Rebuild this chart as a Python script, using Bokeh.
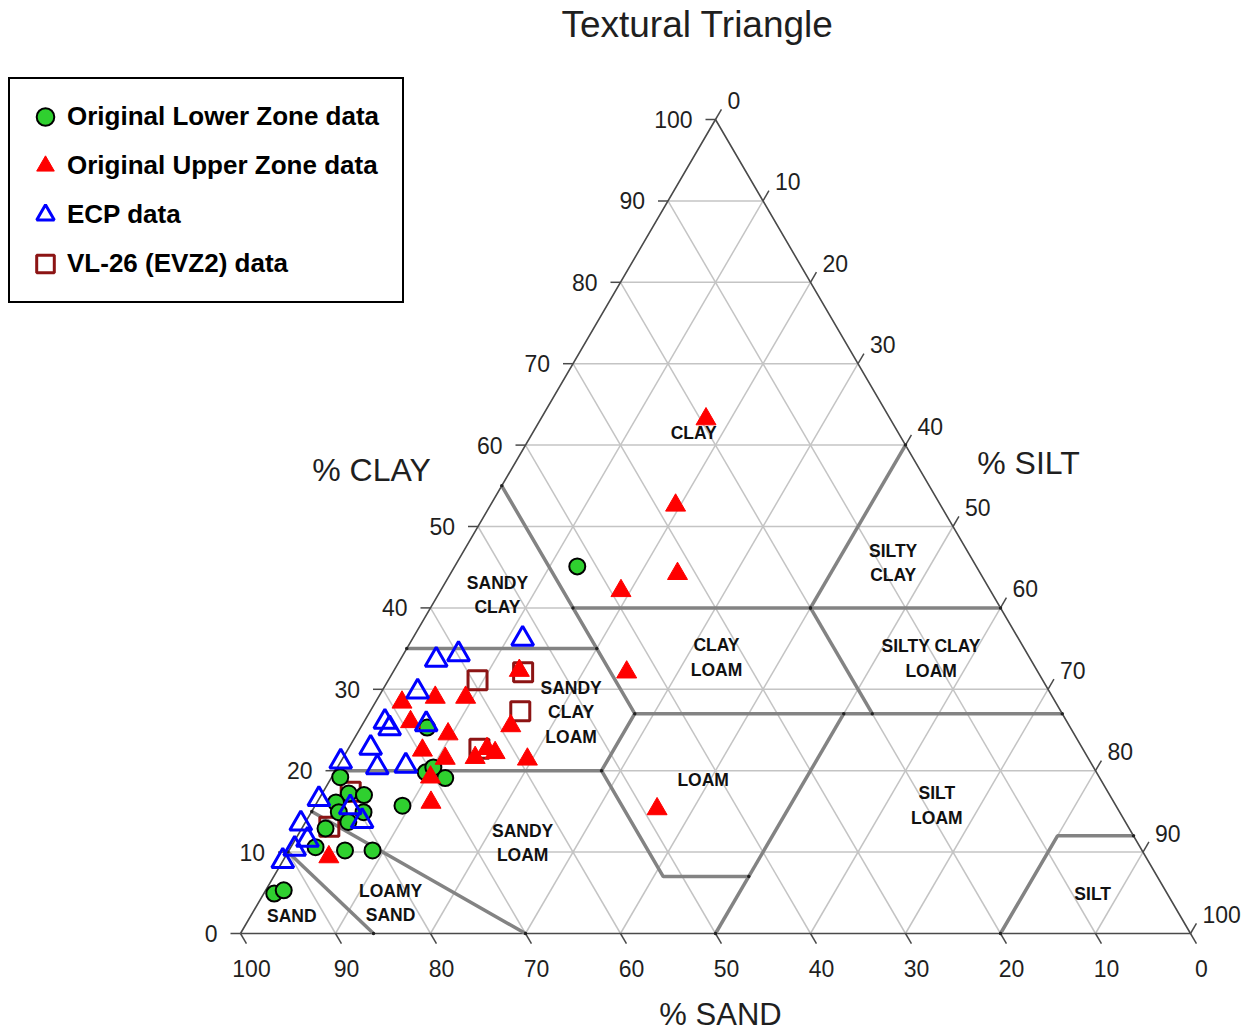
import numpy as np
from bokeh.plotting import figure
from bokeh.models import Range1d, Legend, LegendItem
from bokeh.core.properties import value
from bokeh.embed import file_html
from bokeh.resources import INLINE

# ---------------- data: texture of each sample (sand %, clay %) ----------------
lower_sand = [42.0, 67.7, 70.6, 69.5, 68.9, 79.9, 80.0, 78.5, 81.9, 82.2, 79.6,
              81.8, 84.6, 86.8, 83.9, 81.0, 75.1, 94.0, 92.8]
lower_clay = [45.1, 25.3, 19.8, 20.4, 19.1, 19.2, 17.2, 17.0, 16.1, 14.9, 14.9,
              13.7, 12.9, 10.6, 10.2, 10.2, 15.7, 4.9, 5.3]

upper_sand = [19.4, 27.9, 31.9, 38.9, 43.3, 48.5, 54.5, 68.8, 65.0, 61.8, 69.1,
              65.9, 58.8, 69.6, 67.7, 64.5, 62.7, 62.1, 59.1, 71.9, 86.0, 70.4]
upper_clay = [63.2, 52.6, 44.2, 42.1, 32.1, 15.3, 32.3, 28.4, 29.0, 29.0, 26.0,
              24.5, 25.5, 22.5, 21.5, 21.6, 22.7, 22.2, 21.4, 16.1, 9.4, 19.2]

ecp_sand = [52.2, 62.6, 59.9, 66.5, 71.8, 71.7, 67.6, 74.9, 78.9, 75.4, 72.3,
            83.5, 80.7, 80.3, 86.9, 87.2, 89.1, 91.1]
ecp_clay = [36.2, 33.6, 34.3, 29.7, 26.0, 25.2, 25.7, 22.8, 21.1, 20.4, 20.6,
            16.5, 15.5, 13.8, 13.5, 11.5, 10.4, 8.9]

vl_sand = [59.5, 54.2, 56.9, 63.5, 79.7, 84.1]
vl_clay = [31.1, 32.1, 27.3, 22.7, 17.4, 13.1]

series_labels = ["Original Lower Zone data", "Original Upper Zone data",
                 "ECP data", "VL-26 (EVZ2) data"]

tick_values = list(range(0, 101, 10))
tick_labels = [str(v) for v in tick_values]

# USDA texture class boundaries, vertices as (sand %, clay %)
class_boundaries = [
    [(86, 0), (90, 10)],
    [(70, 0), (85, 15)],
    [(80, 20), (52, 20), (52, 7), (43, 7)],
    [(50, 0), (23, 27)],
    [(52, 20), (45, 27), (45, 55)],
    [(65, 35), (45, 35)],
    [(45, 27), (0, 27)],
    [(45, 40), (0, 40)],
    [(20, 40), (0, 60)],
    [(20, 40), (20, 27)],
    [(20, 0), (8, 12), (0, 12)],
]

class_names = ["CLAY", "SILTY\nCLAY", "SANDY\nCLAY", "CLAY\nLOAM", "SILTY CLAY\nLOAM",
               "SANDY\nCLAY\nLOAM", "LOAM", "SILT\nLOAM", "SANDY\nLOAM",
               "LOAMY\nSAND", "SAND", "SILT"]

# ---------------- layout ----------------
W, H = 1249, 1035
OX, OY = 240.0, 933.0      # pixel position of the 100 % sand corner
SX, SY = 9.5, 8.14         # pixels per unit along x and per % clay

# label anchors in plot units (x across the base, y = clay %)
class_anchor = [(47.7, 61.5), (68.7, 45.5), (27.05, 41.6), (50.1, 33.9), (72.7, 33.8),
                (34.8, 27.2), (48.7, 18.9), (73.3, 15.7), (29.7, 11.1),
                (15.8, 3.75), (5.4, 2.2), (89.7, 4.9)]

FONT_NAME = "Liberation Sans"
FONT = value(FONT_NAME)
INK = "#1f1f1f"


def to_xy(sand, clay):
    sand = np.asarray(sand, float)
    clay = np.asarray(clay, float)
    return 100.0 - sand - clay / 2.0, clay


def dx(px):
    return px / SX


def dy(px):
    return px / SY


p = figure(width=W, height=H,
           x_range=Range1d(-OX / SX, (W - OX) / SX),
           y_range=Range1d(-(H - OY) / SY, OY / SY),
           x_axis_type=None, y_axis_type=None,
           output_backend="svg", toolbar_location=None,
           min_border=0, outline_line_color=None,
           background_fill_color="white", border_fill_color="white")

# ---- light grid every 10 % ----
gx, gy = [], []
for v in range(10, 100, 10):
    gx.append([v / 2, 100 - v / 2]); gy.append([v, v])                  # clay
    gx.append([100 - v, (100 - v) / 2]); gy.append([0, 100 - v])        # sand
    gx.append([v, 50 + v / 2]); gy.append([0, 100 - v])                 # silt
p.multi_line(gx, gy, line_color="#c4c4c4", line_width=1.5)

# ---- tick marks ----
k = 1.25
tx, ty = [], []
for v in tick_values:
    tx.append([v / 2 - dx(10), v / 2]); ty.append([v, v])                          # clay
    tx.append([100 - v, 100 - v + k / 2]); ty.append([0, -k])                      # sand
    tx.append([50 + v / 2, 50 + v / 2 + k / 2]); ty.append([100 - v, 100 - v + k])  # silt
p.multi_line(tx, ty, line_color="#4a4a4a", line_width=1.5)

# ---- outline ----
p.line([0, 100, 50, 0], [0, 0, 100, 0], line_color="#4a4a4a", line_width=1.6)

# ---- class boundaries ----
bx, by, ex, ey = [], [], [], []
for seg in class_boundaries:
    s = [a for a, _ in seg]
    c = [b for _, b in seg]
    x, y = to_xy(s, c)
    bx.append(list(x)); by.append(list(y))
    ex += [x[0], x[-1]]; ey += [y[0], y[-1]]
p.multi_line(bx, by, line_color="#838383", line_width=3.5)
p.scatter(ex, ey, size=3.5, fill_color="#222222", line_color=None)

# ---- class names ----
lx, ly, lt = [], [], []
for name, (ax, ay) in zip(class_names, class_anchor):
    lines = name.split("\n")
    n = len(lines)
    for i, t in enumerate(lines):
        lx.append(ax)
        ly.append(ay - dy((i - (n - 1) / 2) * 24.5))
        lt.append(t)
p.text(lx, ly, text=lt, text_font=FONT, text_font_style="bold", text_font_size="17.5px",
       text_color="#111111", text_align="center", text_baseline="middle")

# ---- tick labels ----
cx = [v / 2 - dx(23) for v in tick_values]
cy = [v for v in tick_values]
p.text(cx, cy, text=tick_labels, text_font=FONT, text_font_size="23px", text_color=INK,
       text_align="right", text_baseline="middle")
sx_ = [100 - v + dx(11) for v in tick_values]
sy_ = [-dy(35)] * len(tick_values)
p.text(sx_, sy_, text=tick_labels, text_font=FONT, text_font_size="23px", text_color=INK,
       text_align="center", text_baseline="middle")
ix = [50 + v / 2 + dx(12) for v in tick_values]
iy = [100 - v + dy(19) for v in tick_values]
p.text(ix, iy, text=tick_labels, text_font=FONT, text_font_size="23px", text_color=INK,
       text_align="left", text_baseline="middle")

# ---- axis titles and heading ----
p.text([dx(371 - OX)], [dy(OY - 469)], text=["% CLAY"], text_font=FONT, text_font_size="32px",
       text_color=INK, text_align="center", text_baseline="middle")
p.text([dx(1028 - OX)], [dy(OY - 462)], text=["% SILT"], text_font=FONT, text_font_size="32px",
       text_color=INK, text_align="center", text_baseline="middle")
p.text([dx(720 - OX)], [dy(OY - 1014)], text=["% SAND"], text_font=FONT, text_font_size="31px",
       text_color=INK, text_align="center", text_baseline="middle")
p.text([dx(697 - OX)], [dy(OY - 24)], text=["Textural Triangle"], text_font=FONT,
       text_font_size="37px", text_color=INK, text_align="center", text_baseline="middle")

# ---- samples ----
x, y = to_xy(vl_sand, vl_clay)
r_vl = p.scatter(x, y, marker="square", size=19, fill_color=None,
                 line_color="#8c1414", line_width=3)
x, y = to_xy(lower_sand, lower_clay)
r_lower = p.scatter(x, y, marker="circle", size=16, fill_color="#2fd02f",
                    line_color="black", line_width=2)
x, y = to_xy(upper_sand, upper_clay)
r_upper = p.scatter(x, y, marker="triangle", size=20, fill_color="#ff0000",
                    line_color="#ff0000", line_width=1)
x, y = to_xy(ecp_sand, ecp_clay)
r_ecp = p.scatter(x, y, marker="triangle", size=22, fill_color=None,
                  line_color="#0000ff", line_width=3)

# ---- legend box ----
pad, gh, gap, n_items = 13, 49, 0, 4
box_h = 2 * pad + n_items * gh + (n_items - 1) * gap
legend = Legend(
    items=[LegendItem(label=series_labels[0], renderers=[r_lower]),
           LegendItem(label=series_labels[1], renderers=[r_upper]),
           LegendItem(label=series_labels[2], renderers=[r_ecp]),
           LegendItem(label=series_labels[3], renderers=[r_vl])],
    location=(8, H - 81 - box_h),
    padding=pad, spacing=gap, glyph_width=44, glyph_height=gh,
    label_standoff=0, label_width=322, label_height=gh,
    label_text_font=FONT_NAME, label_text_font_style="bold", label_text_font_size="26px",
    label_text_color="black",
    border_line_color="black", border_line_width=2.5, border_line_alpha=1.0,
    background_fill_color="white", background_fill_alpha=1.0,
    margin=0,
)
p.add_layout(legend)

open("out.html", "w").write(file_html(p, INLINE))
